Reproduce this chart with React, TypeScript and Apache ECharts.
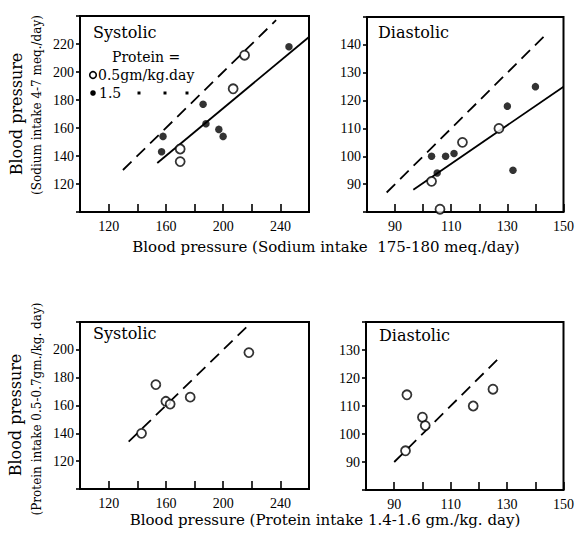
import React, { useEffect, useRef } from "react";
import * as echarts from "echarts";

// ---- data ----
const sysSodiumOpen = [[215, 212], [207, 188], [170, 145], [170, 136]];
const sysSodiumFilled = [[246, 218], [186, 177], [188, 163], [197, 159], [200, 154], [158, 154], [157, 143]];
const sysSodiumIdentity = [[130, 130], [237, 237]];
const sysSodiumFit = [[154, 135], [260, 225]];

const diaSodiumOpen = [[103, 91], [106, 81], [114, 105], [127, 110]];
const diaSodiumFilled = [[103, 100], [105, 94], [108, 100], [111, 101], [130, 118], [132, 95], [140, 125]];
const diaSodiumIdentity = [[87, 87], [143, 143]];
const diaSodiumFit = [[96.5, 88], [150, 125]];

const sysProtein = [[143, 140], [153, 175], [160, 163], [163, 161], [177, 166], [218, 198]];
const sysProteinIdentity = [[134, 134], [218, 218]];

const diaProtein = [[94.5, 114], [94, 94], [100, 106], [101, 103], [118, 110], [125, 116]];
const diaProteinIdentity = [[90, 90], [128, 128]];

const sysXLabels = [120, 160, 200, 240];
const diaXLabels = [90, 110, 130, 150];
const sysSodiumYLabels = [120, 140, 160, 180, 200, 220];
const diaSodiumYLabels = [90, 100, 110, 120, 130, 140];
const sysProteinYLabels = [120, 140, 160, 180, 200];
const diaProteinYLabels = [90, 100, 110, 120, 130];

const FONT = "DejaVu Serif";
const TICKFONT = "Liberation Serif";

function xAxis(gridIndex: number, min: number, max: number, interval: number, labels: number[]) {
  return {
    type: "value", gridIndex, min, max, interval,
    splitLine: { show: false },
    axisLine: { show: false },
    axisTick: { show: true, inside: true, length: 8, lineStyle: { color: "#000", width: 1.6 } },
    axisLabel: {
      show: true, margin: 7, color: "#000", fontFamily: TICKFONT, fontSize: 14,
      showMinLabel: true, showMaxLabel: true,
      formatter: (v: number) => (labels.includes(v) ? String(v) : ""),
    },
  };
}
function yAxis(gridIndex: number, min: number, max: number, interval: number, labels: number[]) {
  return {
    type: "value", gridIndex, min, max, interval,
    splitLine: { show: false },
    axisLine: { show: false },
    axisTick: { show: true, inside: false, length: 4, lineStyle: { color: "#000", width: 1.6 } },
    axisLabel: {
      show: true, margin: 6, color: "#000", fontFamily: TICKFONT, fontSize: 14,
      showMinLabel: true, showMaxLabel: true,
      formatter: (v: number) => (labels.includes(v) ? String(v) : ""),
    },
  };
}
const openStyle = { color: "#fff", borderColor: "#000", borderWidth: 1.8 };
const filledStyle = { color: "#000" };
function openSeries(i: number, data: number[][]) {
  return { type: "scatter", xAxisIndex: i, yAxisIndex: i, data, symbol: "circle", symbolSize: 9, itemStyle: openStyle, z: 5 };
}
function filledSeries(i: number, data: number[][]) {
  return { type: "scatter", xAxisIndex: i, yAxisIndex: i, data, symbol: "circle", symbolSize: 7.5, itemStyle: filledStyle, z: 5 };
}
function lineSeries(i: number, data: number[][], dashed: boolean) {
  return {
    type: "line", xAxisIndex: i, yAxisIndex: i, data, showSymbol: false, symbol: "none",
    lineStyle: { color: "#000", width: 1.8, type: dashed ? [12, 7] : "solid" }, z: 3,
  };
}

function txt(x: number, y: number, text: string, size: number, opts: any = {}) {
  return {
    type: "text", x, y, rotation: opts.rotation || 0,
    style: {
      text, fill: "#000", fontFamily: FONT, fontSize: size,
      align: opts.align || "left", verticalAlign: "middle",
    },
  };
}

export default function App() {
  const ref = useRef<HTMLDivElement>(null);
  useEffect(() => {
    if (!ref.current) return;
    const chart = echarts.init(ref.current, null, { renderer: "svg" });
    const gridStyle = { show: true, borderColor: "#000", borderWidth: 2, backgroundColor: "transparent" };
    const ditto = (x: number) => ({ type: "rect", shape: { x: x - 1.5, y: 91.5, width: 3, height: 3 }, style: { fill: "#000" } });
    chart.setOption({
      animation: false,
      backgroundColor: "#fff",
      grid: [
        { left: 80, top: 16, width: 229, height: 196, ...gridStyle },
        { left: 367, top: 17, width: 199, height: 195, ...gridStyle },
        { left: 80, top: 322, width: 229, height: 167, ...gridStyle },
        { left: 366, top: 322, width: 200, height: 168, ...gridStyle },
      ],
      xAxis: [
        xAxis(0, 100, 260, 20, sysXLabels),
        xAxis(1, 80, 150, 10, diaXLabels),
        xAxis(2, 100, 260, 20, sysXLabels),
        xAxis(3, 80, 150, 10, diaXLabels),
      ],
      yAxis: [
        yAxis(0, 100, 240, 20, sysSodiumYLabels),
        yAxis(1, 80, 150, 10, diaSodiumYLabels),
        yAxis(2, 100, 220, 20, sysProteinYLabels),
        yAxis(3, 80, 140, 10, diaProteinYLabels),
      ],
      series: [
        lineSeries(0, sysSodiumIdentity, true),
        lineSeries(0, sysSodiumFit, false),
        openSeries(0, sysSodiumOpen),
        filledSeries(0, sysSodiumFilled),
        lineSeries(1, diaSodiumIdentity, true),
        lineSeries(1, diaSodiumFit, false),
        openSeries(1, diaSodiumOpen),
        filledSeries(1, diaSodiumFilled),
        lineSeries(2, sysProteinIdentity, true),
        openSeries(2, sysProtein),
        lineSeries(3, diaProteinIdentity, true),
        openSeries(3, diaProtein),
      ],
      graphic: [
        txt(93, 32, "Systolic", 16),
        txt(378, 32, "Diastolic", 16),
        txt(93, 333, "Systolic", 16),
        txt(379, 335, "Diastolic", 16),
        txt(112, 57, "Protein =", 14),
        { type: "circle", shape: { cx: 93, cy: 75, r: 3.3 }, style: { fill: "#fff", stroke: "#000", lineWidth: 1.6 } },
        txt(98, 75, "0.5gm/kg.day", 14),
        { type: "circle", shape: { cx: 93, cy: 93, r: 2.8 }, style: { fill: "#000" } },
        txt(99, 93, "1.5", 14),
        ditto(139),
        ditto(165),
        ditto(187),
        txt(326, 247, "Blood pressure (Sodium intake  175-180 meq./day)", 15, { align: "center" }),
        txt(325, 520, "Blood pressure (Protein intake 1.4-1.6 gm./kg. day)", 15, { align: "center" }),
        txt(16, 114, "Blood pressure", 16, { align: "center", rotation: Math.PI / 2 }),
        txt(37, 105, "(Sodium intake 4-7 meq./day)", 12, { align: "center", rotation: Math.PI / 2 }),
        txt(15, 415, "Blood pressure", 16, { align: "center", rotation: Math.PI / 2 }),
        txt(37, 409, "(Protein intake 0.5-0.7gm./kg. day)", 12, { align: "center", rotation: Math.PI / 2 }),
      ],
    });
    return () => chart.dispose();
  }, []);
  return <div ref={ref} style={{ position: "absolute", left: 0, top: 0, width: 577, height: 536 }} />;
}
